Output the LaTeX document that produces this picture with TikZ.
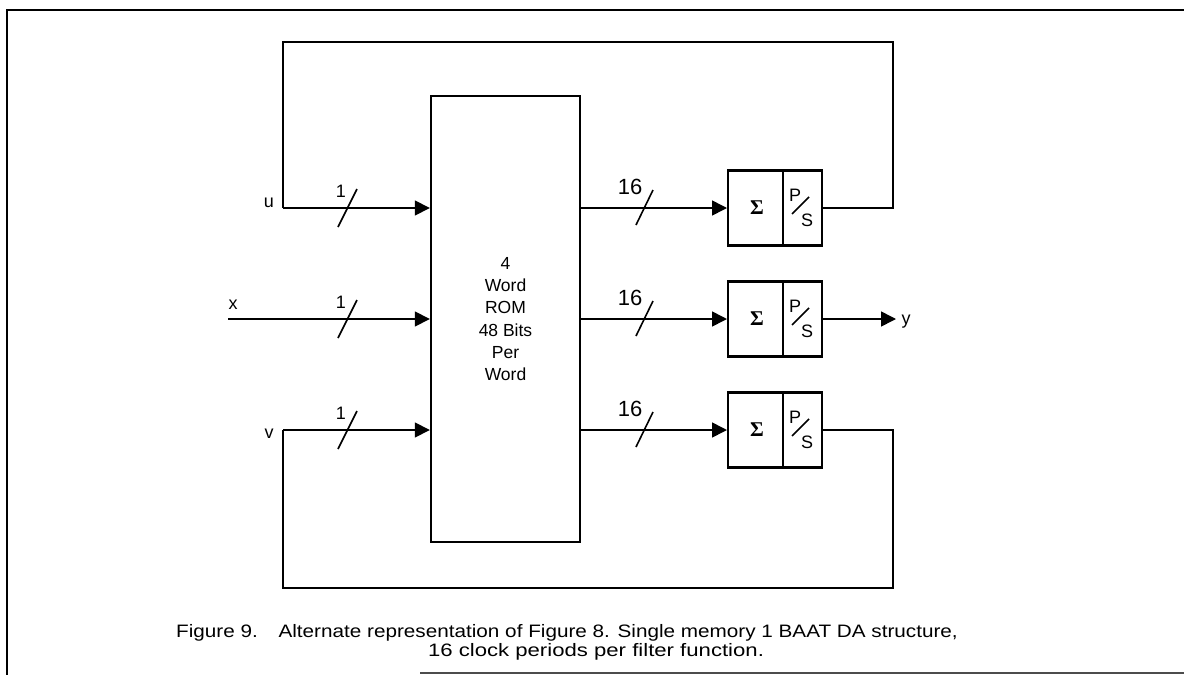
\documentclass[tikz,border=0pt]{standalone}
\usepackage{fontspec}
\setmainfont{Liberation Sans}
\newfontfamily\sigfont{Liberation Serif}
\usetikzlibrary{arrows.meta}
\begin{document}
\begin{tikzpicture}[x=1pt,y=-1pt,
  wire/.style={line width=1.6pt},
  arr/.style={wire,-{Triangle[length=15pt,width=15pt]}},
  blk/.style={draw,line width=2.4pt},
  lbl/.style={font=\fontsize{18}{18}\selectfont,inner sep=0pt},
  slashlbl/.style={font=\fontsize{18}{18}\selectfont,inner sep=0pt},
  widelbl/.style={font=\fontsize{22}{22}\selectfont,inner sep=0pt},
  ps/.style={font=\fontsize{18}{18}\selectfont,inner sep=0pt},
  sigma/.style={font=\sigfont\bfseries\fontsize{21}{21}\selectfont,inner sep=0pt},
  captext/.style={font=\fontsize{18}{18}\selectfont,inner sep=0pt,anchor=base},
]
\useasboundingbox (0,0) rectangle (1184,675);
% frame
\draw[line width=2pt] (1184,10) -- (7,10) -- (7,675);
\draw[line width=1.4pt,black!70] (420,673) -- (1184,673);

% ROM
\node[blk,minimum width=149pt,minimum height=446pt,inner sep=0pt,
  align=center,font=\fontsize{17.5}{22.2}\selectfont] (rom) at (505.5,319)
  {4\\Word\\ROM\\48 Bits\\Per\\Word};

% sum / P/S blocks
\foreach \n/\yy in {a/208,b/319,c/430}{
  \node[blk,minimum width=55pt,minimum height=75pt,inner sep=0pt,anchor=west] (s\n) at (727,\yy) {};
  \node[blk,minimum width=39pt,minimum height=75pt,inner sep=0pt,anchor=west] (p\n) at (782,\yy) {};
  \node[sigma] (sig\n) at (757,\yy) {Σ};
  \node[ps] (pp\n) at (795,\yy-13) {P};
  \node[ps] (ss\n) at (807,\yy+12) {S};
  \draw[line width=1.6pt] (792,\yy+6) -- (809,\yy-11);
}

% input labels and coordinates
\node[lbl] (u) at (269,203) {u};
\node[lbl] (xin) at (233,305) {x};
\node[lbl] (v) at (269,434) {v};
\coordinate (ustart) at (283,208);
\coordinate (xstart) at (228,319);
\coordinate (vstart) at (283,430);

% inputs to ROM
\draw[arr] (ustart) -- (rom.west |- ustart);
\draw[arr] (xstart) -- (rom.west |- xstart);
\draw[arr] (vstart) -- (rom.west |- vstart);

% ROM to sum blocks
\draw[arr] (rom.east |- sa.west) -- (sa.west);
\draw[arr] (rom.east |- sb.west) -- (sb.west);
\draw[arr] (rom.east |- sc.west) -- (sc.west);

% slashes and labels
\foreach \yy/\k in {208/a,319/b,430/c}{
  \draw[line width=1.6pt] (338,\yy+19) -- (357,\yy-19);
  \node[slashlbl] (one\k) at (341,\yy-17) {1};
  \draw[line width=1.6pt] (636,\yy+17) -- (653,\yy-18);
  \node[widelbl] (sixteen\k) at (630,\yy-21) {16};
}

% output
\coordinate (yend) at (896,319);
\draw[arr] (pb.east) -- (yend);
\node[lbl] (y) at (906,322) {y};

% feedback loops
\draw[wire] (pa.east) -- (893,208) -- (893,42) -- (283,42) -- (ustart);
\draw[wire] (pc.east) -- (893,430) -- (893,588) -- (283,588) -- (vstart);

% caption
\node[captext] (cap1) at (567,637)
  {\scalebox{1.15}[1]{Figure 9.\quad Alternate representation of Figure 8. Single memory 1 BAAT DA structure,}};
\node[captext] (cap2) at (596,656)
  {\scalebox{1.23}[1]{16 clock periods per filter function.}};
\end{tikzpicture}
\end{document}
